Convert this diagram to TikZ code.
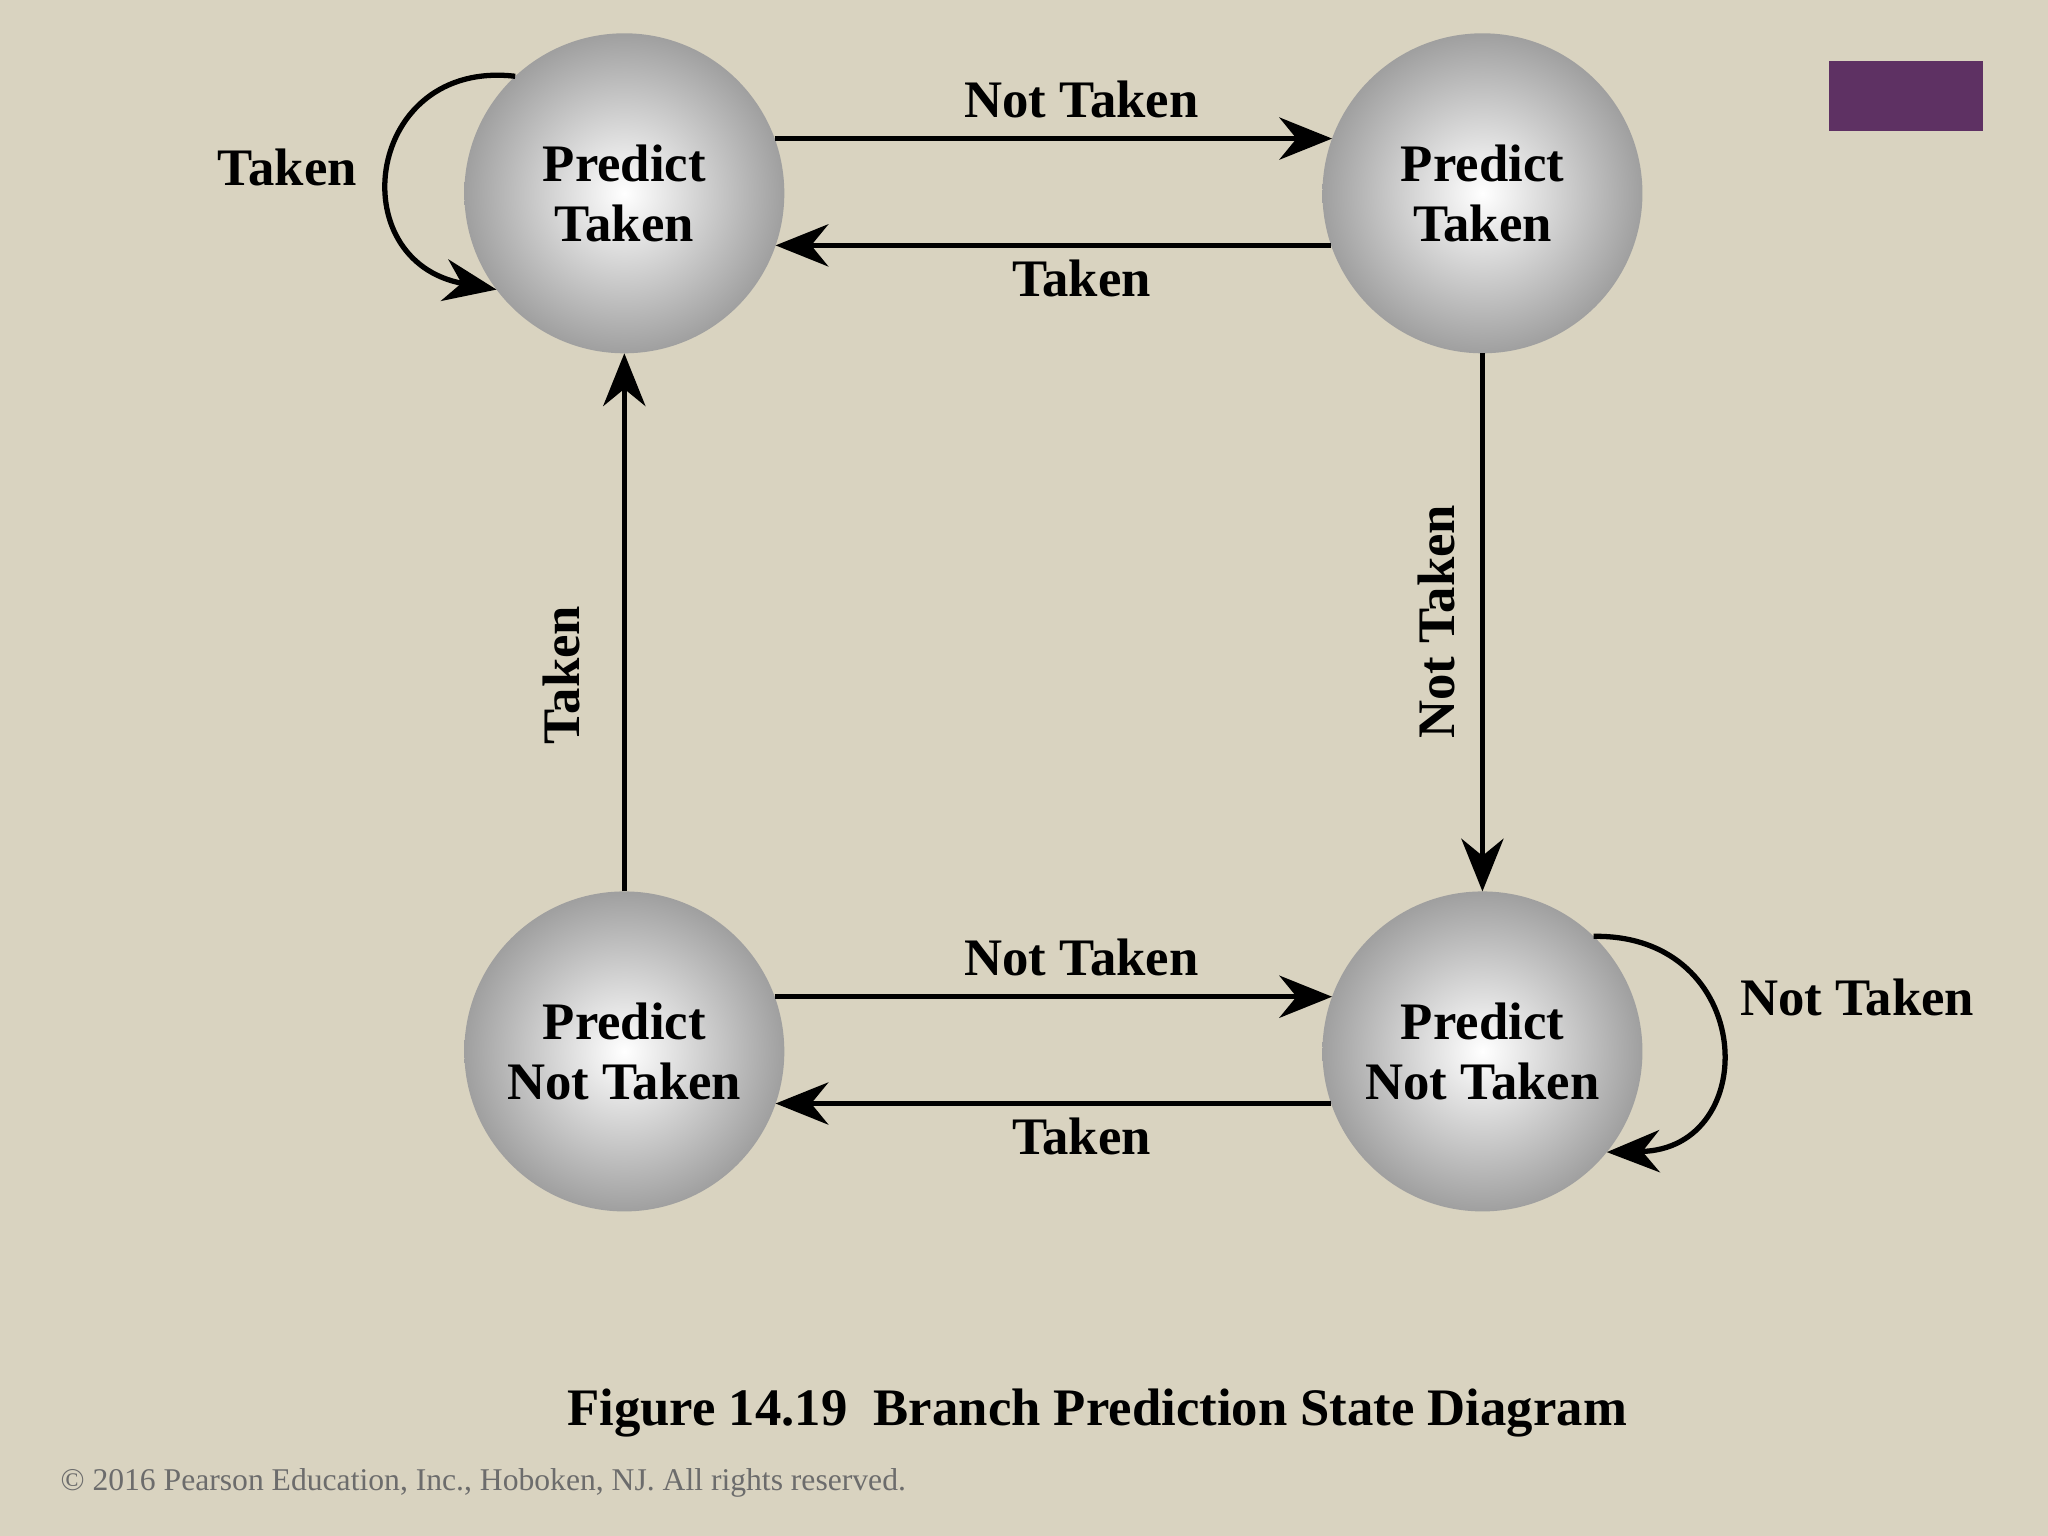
\documentclass[tikz,border=0pt]{standalone}
\usepackage{fontspec}
\setmainfont{Liberation Serif}
\usetikzlibrary{arrows.meta,calc}
\definecolor{bg}{HTML}{D9D3C0}
\definecolor{purp}{HTML}{5E3163}
\begin{document}
\begin{tikzpicture}[x=0.013061cm,y=-0.013061cm,
  st/.style={circle,minimum size=3.2cm,inner sep=0pt,outer sep=0pt,inner color=white,outer color=gray!75,align=center,font=\fontsize{15}{17}\selectfont\bfseries},
  arr/.style={line width=1.5pt,-{Stealth[length=15pt,width=12pt]}},
  lab/.style={font=\fontsize{15}{17}\selectfont\bfseries}]
\fill[bg] (0,0) rectangle (1568,1176);
\useasboundingbox (0,0) rectangle (1568,1176);
\fill[purp] (1400,47) rectangle (1518,100);
\node[st] (tl) at (478,148) {Predict\\Taken};
\node[st] (tr) at (1135,148) {Predict\\Taken};
\node[st] (bl) at (478,805) {Predict\\Not Taken};
\node[st] (br) at (1135,805) {Predict\\Not Taken};
\draw[arr] (tl.20) -- (tr.160);
\draw[arr] (tr.199) -- (tl.-19);
\draw[arr] (bl.20) -- (br.160);
\draw[arr] (br.199) -- (bl.-19);
\draw[arr] (bl.north) -- (tl.south);
\draw[arr] (tr.south) -- (br.north);
\node[lab] (n1) at (828,76) {Not Taken};
\node[lab] (n2) at (828,213) {Taken};
\node[lab] (n3) at (828,733) {Not Taken};
\node[lab] (n4) at (828,870) {Taken};
\node[lab,rotate=90] (n5) at (430,517) {Taken};
\node[lab,rotate=90] (n6) at (1100,476) {Not Taken};
\draw[arr] (tl.133) .. controls (280,45) and (260,200) .. (tl.217);
\node[lab] (l1) at (220,128) {Taken};
\draw[arr] (br.46) .. controls (1345,715) and (1350,880) .. (br.-39);
\node[lab] (l2) at (1422,764) {Not Taken};
\node[lab] (cap) at (840,1082) {Figure 14.19\ \ Branch Prediction State Diagram};
\node[font=\fontsize{9}{11}\selectfont,text=gray!85!black] (cr) at (370,1135) {© 2016 Pearson Education, Inc., Hoboken, NJ. All rights reserved.};
\end{tikzpicture}
\end{document}
